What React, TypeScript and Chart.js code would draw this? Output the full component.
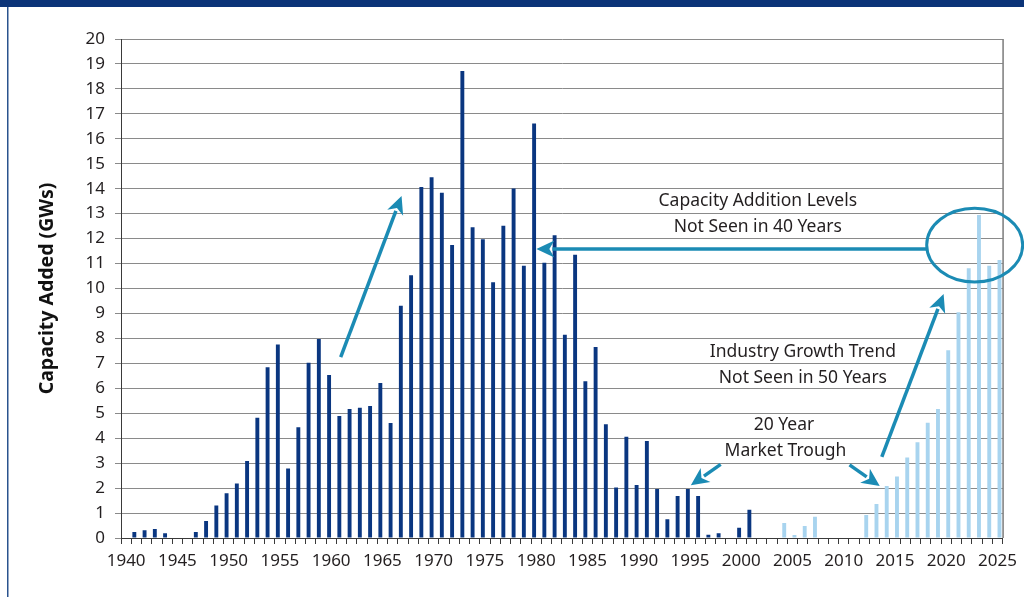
import React, { useEffect, useRef } from "react";
import { Chart, registerables } from "chart.js";

Chart.register(...registerables);

const years = [
  "1940", "1941", "1942", "1943", "1944", "1945", "1946", "1947", "1948", "1949",
  "1950", "1951", "1952", "1953", "1954", "1955", "1956", "1957", "1958", "1959",
  "1960", "1961", "1962", "1963", "1964", "1965", "1966", "1967", "1968", "1969",
  "1970", "1971", "1972", "1973", "1974", "1975", "1976", "1977", "1978", "1979",
  "1980", "1981", "1982", "1983", "1984", "1985", "1986", "1987", "1988", "1989",
  "1990", "1991", "1992", "1993", "1994", "1995", "1996", "1997", "1998", "1999",
  "2000", "2001", "2002", "2003", "2004", "2005", "2006", "2007", "2008", "2009",
  "2010", "2011", "2012", "2013", "2014", "2015", "2016", "2017", "2018", "2019",
  "2020", "2021", "2022", "2023", "2024", "2025",
];

// Historical capacity added (GW), 1940-2025
const historicalGW: (number | null)[] = [
  null, 0.24, 0.31, 0.36, 0.19, null, null, 0.24, 0.68, 1.3,
  1.79, 2.18, 3.09, 4.82, 6.84, 7.76, 2.79, 4.44, 7.02, 7.98,
  6.53, 4.89, 5.17, 5.22, 5.29, 6.21, 4.61, 9.31, 10.53, 14.07,
  14.46, 13.84, 11.74, 18.72, 12.45, 11.97, 10.25, 12.52, 14.01, 10.91,
  16.61, 11.03, 12.13, 8.15, 11.35, 6.28, 7.66, 4.56, 2.02, 4.06,
  2.12, 3.89, 1.96, 0.75, 1.68, 1.96, 1.68, 0.13, 0.19, null,
  0.41, 1.13, null, null, null, null, null, null, null, null,
  null, null, null, null, null, null, null, null, null, null,
  null, null, null, null, null, null,
];

// Recent / projected capacity added (GW), 1940-2025
const recentGW: (number | null)[] = [
  null, null, null, null, null, null, null, null, null, null,
  null, null, null, null, null, null, null, null, null, null,
  null, null, null, null, null, null, null, null, null, null,
  null, null, null, null, null, null, null, null, null, null,
  null, null, null, null, null, null, null, null, null, null,
  null, null, null, null, null, null, null, null, null, null,
  null, null, null, null, 0.6, 0.12, 0.48, 0.85, null, null,
  null, null, 0.92, 1.36, 2.08, 2.46, 3.23, 3.84, 4.62, 5.17,
  7.53, 9.05, 10.81, 12.95, 10.91, 11.14,
];

const yAxisTitle = "Capacity Added (GWs)";

// Annotations in data units: x = fractional year, y = GW
const arrows = [
  { from: [1960.93, 7.25], to: [1966.87, 13.71] },
  { from: [2018.1, 11.58], to: [1980.02, 11.58] },
  { from: [2013.72, 3.25], to: [2019.75, 9.78] },
  { from: [2010.57, 2.93], to: [2013.52, 2.08] },
  { from: [1998.0, 2.95], to: [1995.09, 2.11] },
];
const highlight = { cx: 2022.78, cy: 11.74, rx: 4.68, ry: 1.48 };
const notes = [
  { x: 2001.62, y: 13.51, text: "Capacity Addition Levels" },
  { x: 2001.62, y: 12.46, text: "Not Seen in 40 Years" },
  { x: 2006.02, y: 7.45, text: "Industry Growth Trend" },
  { x: 2006.02, y: 6.41, text: "Not Seen in 50 Years" },
  { x: 2004.17, y: 4.53, text: "20 Year" },
  { x: 2004.32, y: 3.49, text: "Market Trough" },
];

const FONT = "'Noto Sans', 'DejaVu Sans', sans-serif";
const DARK = "#0a3680";
const LIGHT = "#a8d4ef";
const TEAL = "#1b8bb4";

const framePlugin = {
  id: "framePlugin",
  beforeDraw(chart: any) {
    const { ctx, width, height } = chart;
    ctx.save();
    ctx.fillStyle = "#ffffff";
    ctx.fillRect(0, 0, width, height);
    ctx.fillStyle = "#0b3478";
    ctx.fillRect(0, 0, width, 7);
    ctx.fillStyle = "#2a538e";
    ctx.fillRect(7, 7, 1.5, height - 7);
    ctx.restore();
  },
  afterDatasetsDraw(chart: any) {
    const { ctx, chartArea } = chart;
    const xs = chart.scales.x;
    const ys = chart.scales.y;
    const px = (yr: number) => xs.getPixelForValue(yr - 1940);
    const py = (v: number) => ys.getPixelForValue(v);
    ctx.save();
    // right border of plot area
    ctx.strokeStyle = "#3a3a3a";
    ctx.lineWidth = 1;
    ctx.beginPath();
    ctx.moveTo(chartArea.right + 0.5, chartArea.top);
    ctx.lineTo(chartArea.right + 0.5, chartArea.bottom);
    ctx.stroke();

    // arrows
    ctx.strokeStyle = TEAL;
    ctx.fillStyle = TEAL;
    ctx.lineWidth = 3.5;
    ctx.lineCap = "butt";
    for (const a of arrows) {
      const x1 = px(a.from[0]);
      const y1 = py(a.from[1]);
      const x2 = px(a.to[0]);
      const y2 = py(a.to[1]);
      const ang = Math.atan2(y2 - y1, x2 - x1);
      const headLen = 18;
      const headW = 8.5;
      const bx = x2 - Math.cos(ang) * (headLen - 2);
      const by = y2 - Math.sin(ang) * (headLen - 2);
      ctx.beginPath();
      ctx.moveTo(x1, y1);
      ctx.lineTo(bx, by);
      ctx.stroke();
      const hx = x2 - Math.cos(ang) * headLen;
      const hy = y2 - Math.sin(ang) * headLen;
      ctx.beginPath();
      ctx.moveTo(x2, y2);
      ctx.lineTo(hx + Math.cos(ang + Math.PI / 2) * headW, hy + Math.sin(ang + Math.PI / 2) * headW);
      ctx.lineTo(x2 - Math.cos(ang) * (headLen - 5), y2 - Math.sin(ang) * (headLen - 5));
      ctx.lineTo(hx - Math.cos(ang + Math.PI / 2) * headW, hy - Math.sin(ang + Math.PI / 2) * headW);
      ctx.closePath();
      ctx.fill();
    }

    // highlight ellipse
    const ecx = px(highlight.cx);
    const ecy = py(highlight.cy);
    const erx = Math.abs(px(highlight.cx + highlight.rx) - ecx);
    const ery = Math.abs(py(highlight.cy + highlight.ry) - ecy);
    ctx.lineWidth = 3;
    ctx.beginPath();
    ctx.ellipse(ecx, ecy, erx, ery, 0, 0, Math.PI * 2);
    ctx.stroke();

    // notes
    ctx.fillStyle = "#231f20";
    ctx.font = `17.5px ${FONT}`;
    ctx.textAlign = "center";
    ctx.textBaseline = "middle";
    for (const n of notes) {
      ctx.fillText(n.text, px(n.x), py(n.y));
    }

    // y-axis title
    ctx.font = `bold 19.5px ${FONT}`;
    ctx.fillStyle = "#111111";
    ctx.translate(47, (chartArea.top + chartArea.bottom) / 2);
    ctx.rotate(-Math.PI / 2);
    ctx.fillText(yAxisTitle, 0, 0);
    ctx.restore();
  },
};

export default function App() {
  const canvasRef = useRef<HTMLCanvasElement | null>(null);

  useEffect(() => {
    const canvas = canvasRef.current;
    if (!canvas) return;
    const chart = new Chart(canvas, {
      type: "bar",
      data: {
        labels: years,
        datasets: [
          {
            label: "Historical",
            data: historicalGW,
            backgroundColor: DARK,
            categoryPercentage: 0.8,
            barPercentage: 0.95,
          },
          {
            label: "Recent",
            data: recentGW,
            backgroundColor: LIGHT,
            categoryPercentage: 0.8,
            barPercentage: 0.95,
          },
        ],
      },
      options: {
        responsive: false,
        animation: false,
        devicePixelRatio: 1,
        layout: { padding: { top: 39, right: 20, bottom: 0, left: 0 } },
        plugins: {
          legend: { display: false },
          tooltip: { enabled: false },
        },
        scales: {
          x: {
            type: "category",
            offset: true,
            grid: {
              offset: true,
              drawOnChartArea: false,
              drawTicks: true,
              tickLength: 6,
              color: "#3a3a3a",
            },
            border: { display: true, color: "#3a3a3a" },
            ticks: {
              autoSkip: false,
              maxRotation: 0,
              minRotation: 0,
              padding: 7,
              color: "#231f20",
              font: { family: FONT, size: 17 },
              callback: (_v: any, i: number) => (Number(years[i]) % 5 === 0 ? years[i] : ""),
            },
            afterFit: (scale: any) => {
              scale.height = 59;
            },
          },
          y: {
            min: 0,
            max: 20,
            grid: {
              color: "#8a8a8a",
              drawTicks: true,
              tickLength: 6,
            },
            border: { display: true, color: "#3a3a3a" },
            ticks: {
              stepSize: 1,
              padding: 10,
              color: "#231f20",
              font: { family: FONT, size: 17 },
            },
            afterFit: (scale: any) => {
              scale.width = 121;
            },
          },
        },
      },
      plugins: [framePlugin],
    });
    return () => chart.destroy();
  }, []);

  return (
    <div style={{ position: "absolute", left: 0, top: 0, width: 1024, height: 597, background: "#fff" }}>
      <canvas ref={canvasRef} width={1024} height={597} style={{ display: "block" }} />
    </div>
  );
}
